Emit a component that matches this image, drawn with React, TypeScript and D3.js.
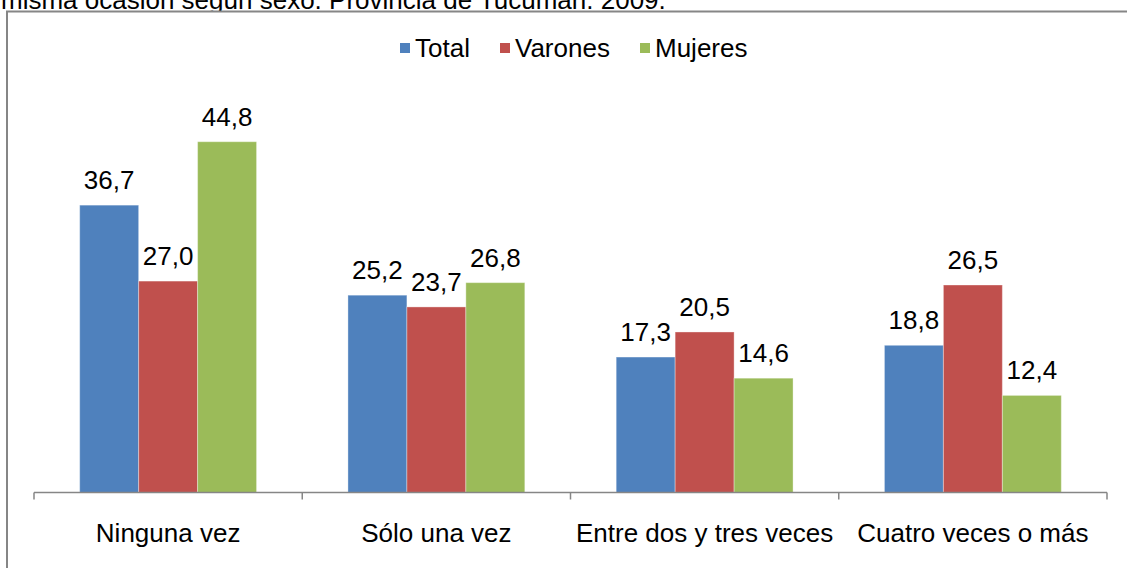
import React from 'react';
import { scaleBand, scaleLinear } from 'd3';

const categories = ['Ninguna vez', 'Sólo una vez', 'Entre dos y tres veces', 'Cuatro veces o más'];
const seriesNames = ['Total', 'Varones', 'Mujeres'];
const total = [36.7, 25.2, 17.3, 18.8];
const varones = [27.0, 23.7, 20.5, 26.5];
const mujeres = [44.8, 26.8, 14.6, 12.4];
const colors = ['#4F81BD', '#C0504D', '#9BBB59'];
const titleText = 'misma ocasión según sexo. Provincia de Tucumán. 2009.';

const W = 1127;
const H = 568;
const font = '"Liberation Sans", Arial, sans-serif';

const App: React.FC = () => {
  const values = [total, varones, mujeres];

  const x0 = scaleBand<string>().domain(categories).range([34, 1107]).padding(0);
  const x1 = scaleBand<string>()
    .domain(seriesNames)
    .range([0, x0.bandwidth()])
    .paddingInner(0)
    .paddingOuter(0.775);
  const y = scaleLinear().domain([0, 50]).range([492.5, 101]);

  const fmt = (v: number) => v.toFixed(1).replace('.', ',');
  const ticks = categories.map((c) => x0(c) as number).concat([x0.range()[1]]);

  const legendX = [400, 500, 640];

  return (
    <svg
      width={W}
      height={H}
      style={{ position: 'absolute', left: 0, top: 0, background: '#fff' }}
      fontFamily={font}
    >
      {/* title, cut off at the top */}
      <text x={1} y={9} fontSize={26} fill="#000">
        {titleText}
      </text>

      {/* chart frame */}
      <rect x={7} y={11.5} width={W + 20} height={H + 20} fill="#fff" stroke="#868686" strokeWidth={2} />

      {/* legend */}
      {seriesNames.map((s, i) => (
        <g key={s}>
          <rect x={legendX[i]} y={43} width={10} height={10} fill={colors[i]} />
          <text x={legendX[i] + 15} y={57} fontSize={26} fill="#000">
            {s}
          </text>
        </g>
      ))}

      {/* bars */}
      {categories.map((c, ci) => (
        <g key={c} transform={`translate(${x0(c)},0)`}>
          {seriesNames.map((s, si) => {
            const v = values[si][ci];
            const bx = x1(s) as number;
            return (
              <g key={s}>
                <rect
                  x={bx}
                  y={y(v)}
                  width={x1.bandwidth()}
                  height={y(0) - y(v)}
                  fill={colors[si]}
                  stroke="rgba(255,255,255,0.35)"
                  strokeWidth={1}
                />
                <text
                  x={bx + x1.bandwidth() / 2}
                  y={y(v) - 16}
                  textAnchor="middle"
                  fontSize={26}
                  fill="#000"
                >
                  {fmt(v)}
                </text>
              </g>
            );
          })}
        </g>
      ))}

      {/* x axis */}
      <line x1={x0.range()[0]} x2={x0.range()[1]} y1={y(0)} y2={y(0)} stroke="#868686" strokeWidth={1.5} />
      {ticks.map((t, i) => (
        <line key={i} x1={t} x2={t} y1={y(0)} y2={y(0) + 7} stroke="#868686" strokeWidth={1.5} />
      ))}
      {categories.map((c) => (
        <text
          key={c}
          x={(x0(c) as number) + x0.bandwidth() / 2}
          y={542}
          textAnchor="middle"
          fontSize={26}
          fill="#000"
        >
          {c}
        </text>
      ))}
    </svg>
  );
};

export default App;
